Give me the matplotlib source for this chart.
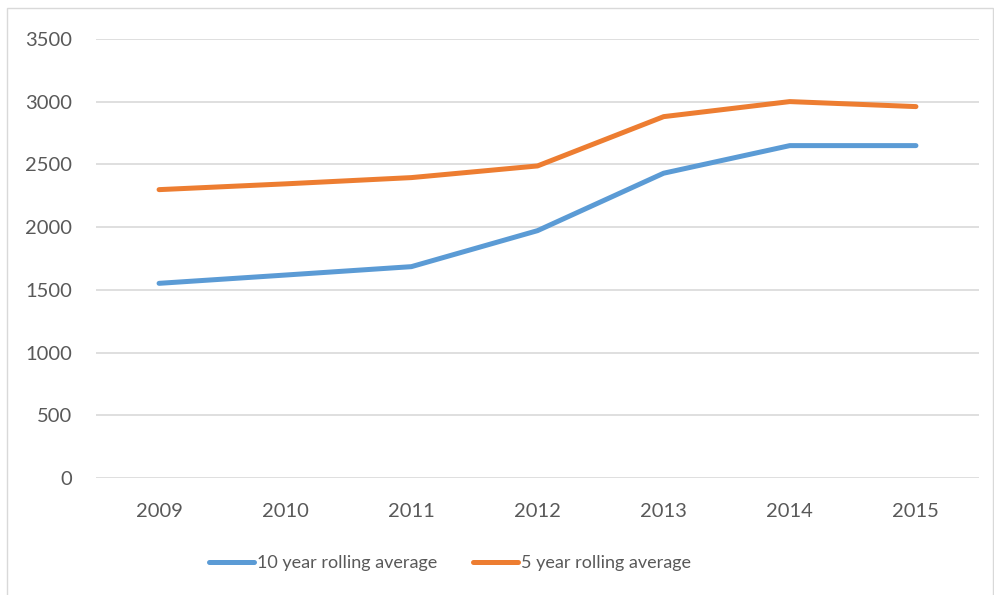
import matplotlib.pyplot as plt
from matplotlib.patches import Rectangle

years = ["2009", "2010", "2011", "2012", "2013", "2014", "2015"]
ten_year = [1552, 1618, 1685, 1972, 2430, 2650, 2650]
five_year = [2299, 2345, 2395, 2488, 2881, 3001, 2961]
series_names = ["10 year rolling average", "5 year rolling average"]

plt.rcParams['font.family'] = ['Lato', 'DejaVu Sans']
text_col = "#595959"

fig = plt.figure(figsize=(9.95, 5.95), dpi=100)
ax = fig.add_axes([96/995, 1-478/595, (979-96)/995, (478-39)/595])

x = range(len(years))
ax.plot(x, ten_year, color="#5B9BD5", lw=3.6, solid_capstyle="round", solid_joinstyle="round", label=series_names[0])
ax.plot(x, five_year, color="#ED7D31", lw=3.6, solid_capstyle="round", solid_joinstyle="round", label=series_names[1])

ax.set_xlim(-0.5, 6.5)
ax.set_ylim(0, 3500)
ax.set_yticks(range(0, 3501, 500))
ax.set_xticks(list(x))
ax.set_xticklabels(years)
ax.grid(axis="y", color="#D9D9D9", lw=1.2)
ax.set_axisbelow(True)
for s in ax.spines.values():
    s.set_visible(False)
ax.tick_params(length=0, labelsize=14.5, colors=text_col)
ax.tick_params(axis="y", pad=17)
ax.tick_params(axis="x", pad=18)

fig.legend(loc="center", bbox_to_anchor=(450/995, 1-563/595), ncol=2, frameon=False,
           fontsize=13, labelcolor=text_col, handlelength=2.5, handletextpad=0.15,
           columnspacing=2.0)

fig.patches.append(Rectangle((7/995, -0.01), (993-7)/995, 1-8/595+0.01, transform=fig.transFigure,
                             fill=False, edgecolor="#D9D9D9", lw=1))

fig.savefig("out.png", dpi=100)
